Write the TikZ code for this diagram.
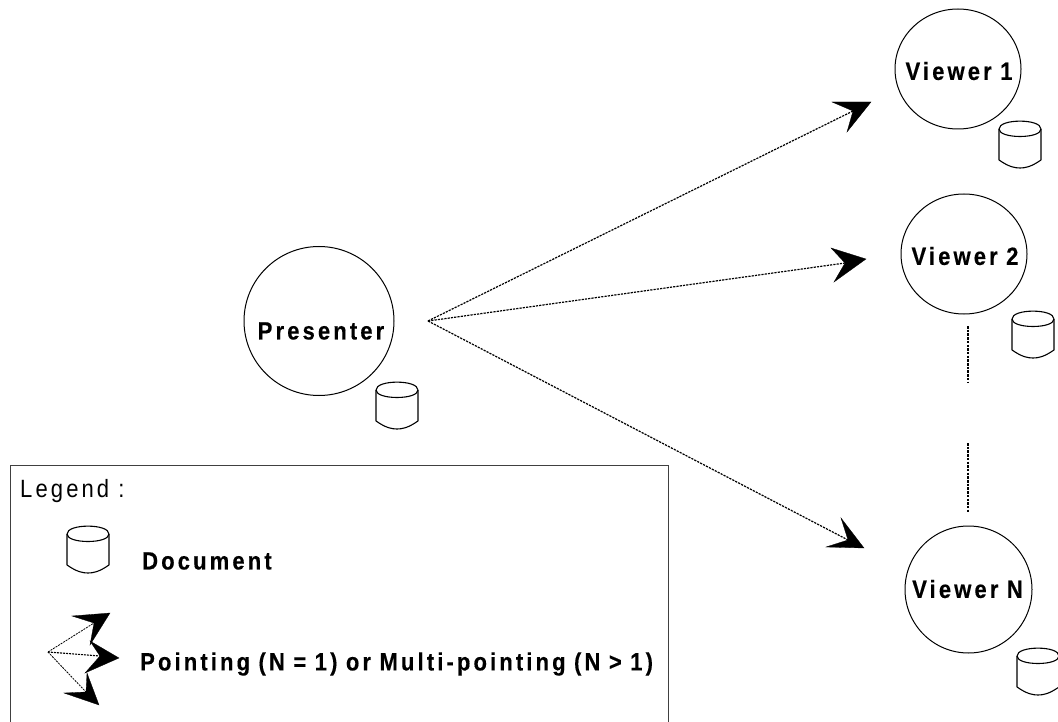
\documentclass[tikz,border=0pt]{standalone}
\usepackage{fontspec}
\usetikzlibrary{shapes.geometric}
\setmainfont{Liberation Sans}
\newfontfamily\boldsp[LetterSpace=12.5,FakeStretch=0.88,FakeBold=0.3,WordSpace=0.92]{Liberation Sans Bold}
\newfontfamily\regsp[LetterSpace=12.5,FakeStretch=0.88]{Liberation Sans}
\tikzset{
  x=1pt,y=-1pt,
  person/.style={ellipse,draw,line width=1pt,inner sep=0pt},
  lbl/.style={anchor=west,inner sep=0pt,font=\fontsize{25}{28}\boldsp},
  legendtxt/.style={anchor=west,inner sep=0pt,font=\fontsize{25}{28}\regsp},
  pointer/.style={line width=1.2pt,dash pattern=on 2.2pt off 1.1pt},
  thinpointer/.style={line width=.8pt,dash pattern=on 2pt off 1pt},
  head/.style={fill=black,draw=black,line width=.3pt,line join=miter},
  cyl/.style={draw,line width=1.1pt,line join=round},
  frame/.style={draw=black!75,line width=1pt},
  gap/.style={line width=1.4pt,dash pattern=on 2.5pt off 1.2pt}
}
\newcommand{\docicon}[2]{%
  \begin{scope}[shift={(#1,#2)}]
    \draw[cyl] (0,8) .. controls (0,-2.5) and (42,-2.5) .. (42,8) .. controls (42,18) and (0,18) .. (0,8);
    \draw[cyl] (0,8) -- (0,39) .. controls (10,46) and (16,47) .. (21,47) .. controls (26,47) and (32,46) .. (42,39) -- (42,8);
  \end{scope}}
\begin{document}
\begin{tikzpicture}
\useasboundingbox (0,0) rectangle (1058,722);
\fill[white] (0,0) rectangle (1058,722);
% people
\node[person,minimum width=150pt,minimum height=149pt] (presenter) at (319,321) {};
\node[person,minimum width=126pt,minimum height=120pt] (v1) at (958,69) {};
\node[person,minimum width=126pt,minimum height=120pt] (v2) at (964,254) {};
\node[person,minimum width=127pt,minimum height=127pt] (vn) at (968.5,589.5) {};
\node[lbl,anchor=center] (presenterlabel) at (321,331) {Presenter};
\node[lbl,anchor=center] (v1label) at (959,71) {Viewer 1};
\node[lbl,anchor=center] (v2label) at (965,256) {Viewer 2};
\node[lbl,anchor=center] (vnlabel) at (967.5,589) {Viewer N};
% documents
\docicon{376}{382}
\docicon{999}{121}
\docicon{1012}{311}
\docicon{1017}{648}
% pointers
\coordinate (o) at (428,321);
\coordinate (n1) at (853,111);
\coordinate (n2) at (845,263);
\coordinate (n3) at (848,540);
\draw[pointer] (o) -- (n1);
\draw[pointer] (o) -- (n2);
\draw[pointer] (o) -- (n3);
\fill[head] (832,102) -- (871,102) -- (847,132) -- (n1) -- cycle;
\fill[head] (831,248) -- (866,259) -- (834,282) -- (n2) -- cycle;
\fill[head] (841,518) -- (864,548) -- (826,547) -- (n3) -- cycle;
% ellipsis between viewers
\coordinate (g1) at (968,326);
\coordinate (g2) at (968,382);
\coordinate (g3) at (968,443);
\coordinate (g4) at (968,513);
\draw[gap] (g1) -- (g2);
\draw[gap] (g3) -- (g4);
% legend
\draw[frame] (10,722) -- (10,465) -- (668,465) -- (668,722);
\node[legendtxt] (legendtitle) at (20,491) {Legend :};
\docicon{67}{526}
\node[lbl] (doclabel) at (142,561) {Document};
\coordinate (lo) at (48,652);
\coordinate (la) at (94,623);
\coordinate (lb) at (100,656);
\coordinate (lc) at (86,692);
\draw[thinpointer] (lo) -- (la);
\draw[thinpointer,line width=1.1pt] (lo) -- (lb);
\draw[thinpointer] (lo) -- (lc);
\fill[head] (72,616) -- (110,613) -- (90,645) -- (la) -- cycle;
\fill[head] (90,641) -- (119,658) -- (85,673) -- (lb) -- cycle;
\fill[head] (64,693) -- (86,692) -- (87,673) -- (99,705) -- cycle;
\node[lbl] (pointlabel) at (140,664) {Pointing (N = 1) or Multi-pointing (N > 1)};
\end{tikzpicture}
\end{document}
